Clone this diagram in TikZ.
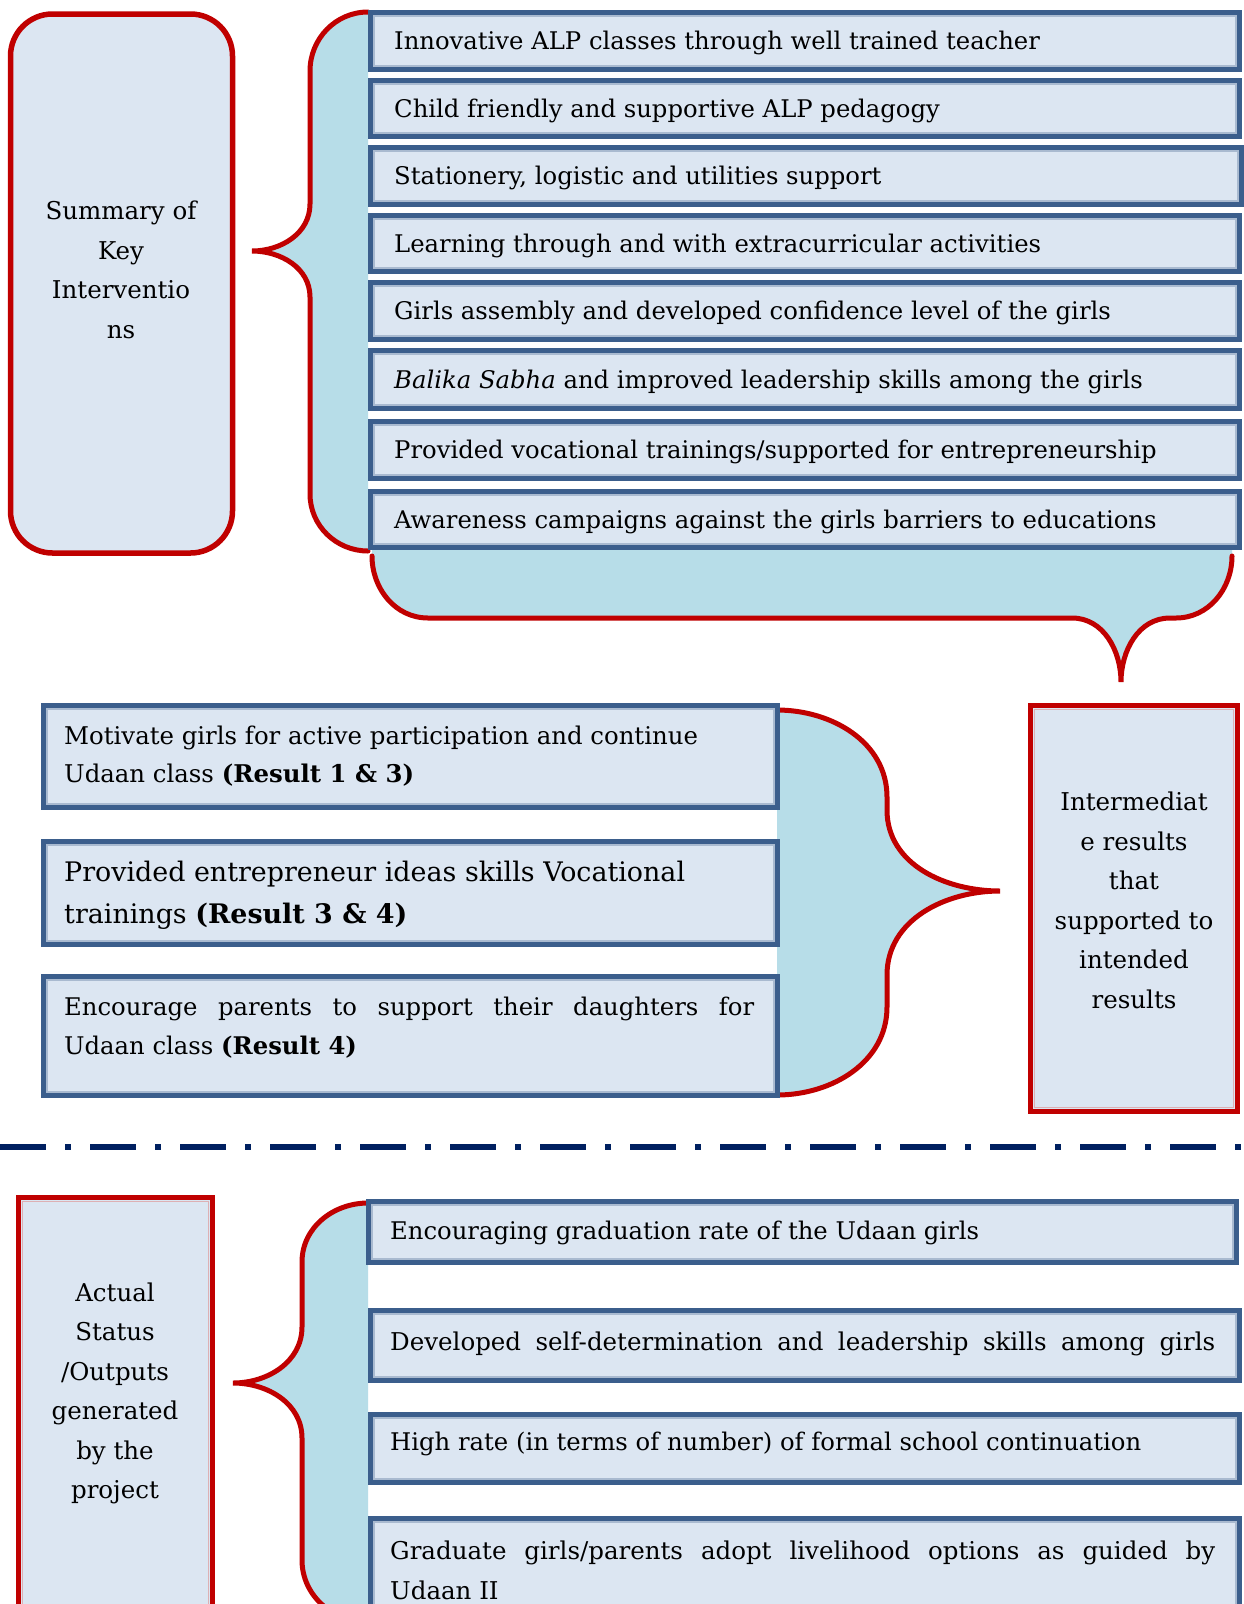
\documentclass[tikz,border=0pt]{standalone}
\usepackage{fontspec}
\setmainfont{DejaVu Serif}
\definecolor{boxfill}{HTML}{DCE6F2}
\definecolor{bracefill}{HTML}{B7DDE8}
\definecolor{boxline}{HTML}{3B5E8C}
\definecolor{boxinner}{HTML}{A9BAD0}
\definecolor{redline}{HTML}{C00000}
\definecolor{redinner}{HTML}{DDB0B4}
\definecolor{navyline}{HTML}{002060}
\tikzset{
  bluebox/.style={draw=boxline, fill=boxfill, line width=4.8pt, inner sep=0pt, outer sep=0pt, anchor=north west,
    path picture={\draw[boxinner, line width=1.2pt] ([shift={(3.5pt,-3.5pt)}]path picture bounding box.north west) rectangle ([shift={(-3.5pt,3.5pt)}]path picture bounding box.south east);}},
  redbox/.style={draw=redline, fill=boxfill, line width=5.5pt, inner sep=0pt, outer sep=0pt, anchor=north west,
    path picture={\draw[redinner, line width=1.2pt] ([shift={(3.8pt,-3.8pt)}]path picture bounding box.north west) rectangle ([shift={(-3.8pt,3.8pt)}]path picture bounding box.south east);}},
  roundredbox/.style={draw=redline, fill=boxfill, line width=5.5pt, inner sep=0pt, outer sep=0pt, anchor=north west, rounded corners=42pt},
  bracered/.style={draw=redline, line width=5pt, line cap=round},
  txt/.style={inner sep=0pt, anchor=west, align=left, font=\fontsize{24.3}{39}\selectfont},
  ctxt/.style={inner sep=0pt, anchor=center, align=center, font=\fontsize{24.5}{39.5}\selectfont},
}
\begin{document}
\begin{tikzpicture}[x=1pt,y=-1pt]
\useasboundingbox (0,0) rectangle (1244,1604);
\fill[white] (0,0) rectangle (1244,1604);
\clip (0,0) rectangle (1244,1604);

% ---------- braces ----------
\fill[bracefill] (368,12) to[out=180,in=90] (310,71) -- (310,204) to[out=-90,in=0] (252,251) to[out=0,in=90] (310,297) -- (310,494) to[out=-90,in=180] (368,551) -- cycle;
\draw[bracered] (368,12) to[out=180,in=90] (310,71) -- (310,204) to[out=-90,in=0] (252,251) to[out=0,in=90] (310,297) -- (310,494) to[out=-90,in=180] (368,551);

\fill[bracefill] (372,550) -- (372,556) to[out=-90,in=180] (428,618) -- (1072,618) to[out=0,in=90] (1121,682) to[out=90,in=180] (1170,618) -- (1176,618) to[out=0,in=-90] (1232,556) -- (1232,550) -- cycle;
\draw[bracered] (372,556) to[out=-90,in=180] (428,618) -- (1072,618) to[out=0,in=90] (1121,682) to[out=90,in=180] (1170,618) -- (1176,618) to[out=0,in=-90] (1232,556);

\fill[bracefill] (777,710) to[out=0,in=90] (887,797) -- (887,810) to[out=-90,in=180] (1000,891) to[out=180,in=90] (887,975) -- (887,1007) to[out=-90,in=0] (777,1095) -- cycle;
\draw[bracered] (777,710) to[out=0,in=90] (887,797) -- (887,810) to[out=-90,in=180] (1000,891) to[out=180,in=90] (887,975) -- (887,1007) to[out=-90,in=0] (777,1095);

\fill[bracefill] (368,1203) to[out=180,in=90] (302,1262) -- (302,1327) to[out=-90,in=0] (233,1383) to[out=0,in=90] (302,1438) -- (302,1560) to[out=-90,in=180] (368,1622) -- cycle;
\draw[bracered] (368,1203) to[out=180,in=90] (302,1262) -- (302,1327) to[out=-90,in=0] (233,1383) to[out=0,in=90] (302,1438) -- (302,1560) to[out=-90,in=180] (368,1622);

% ---------- left box ----------
\node[roundredbox, minimum width=222pt, minimum height=539pt] (summary) at (10.5,14) {};
\node[ctxt] (summarytxt) at (121,270) {Summary of\\Key\\Interventio\\ns};

% ---------- top boxes ----------
\node[bluebox, minimum width=869pt, minimum height=57pt] (t1) at (370.5,12.5) {};
\node[bluebox, minimum width=869pt, minimum height=56pt] (t2) at (370.5,80.5) {};
\node[bluebox, minimum width=871pt, minimum height=57pt] (t3) at (370.5,147.5) {};
\node[bluebox, minimum width=869pt, minimum height=56pt] (t4) at (370.5,215.5) {};
\node[bluebox, minimum width=869pt, minimum height=57pt] (t5) at (370.5,282.5) {};
\node[bluebox, minimum width=869pt, minimum height=58pt] (t6) at (370.5,350.5) {};
\node[bluebox, minimum width=869pt, minimum height=57pt] (t7) at (370.5,421.5) {};
\node[bluebox, minimum width=869pt, minimum height=56pt] (t8) at (370.5,491.5) {};
\node[txt] (t1txt) at (394,43) {Innovative ALP classes through well trained teacher};
\node[txt] (t2txt) at (394,110.5) {Child friendly and supportive ALP pedagogy};
\node[txt] (t3txt) at (394,178) {Stationery, logistic and utilities support};
\node[txt] (t4txt) at (394,245.5) {Learning through and with extracurricular activities};
\node[txt] (t5txt) at (394,313) {Girls assembly and developed confidence level of the girls};
\node[txt] (t6txt) at (394,381.5) {\textit{Balika Sabha} and improved leadership skills among the girls};
\node[txt] (t7txt) at (394,452) {Provided vocational trainings/supported for entrepreneurship};
\node[txt] (t8txt) at (394,521.5) {Awareness campaigns against the girls barriers to educations};

% ---------- middle boxes ----------
\node[bluebox, minimum width=734pt, minimum height=102pt] (mA) at (43.5,705.5) {};
\node[bluebox, minimum width=734pt, minimum height=103pt] (mB) at (43.5,841.5) {};
\node[bluebox, minimum width=734pt, minimum height=119pt] (mC) at (43.5,976.5) {};
\node[txt, font=\fontsize{24.4}{38.5}\selectfont] (mAtxt) at (64,756) {Motivate girls for active participation and continue\\Udaan class \textbf{(Result 1 \& 3)}};
\node[txt, font=\fontsize{26.9}{42}\selectfont] (mBtxt) at (64,895) {Provided entrepreneur ideas skills Vocational\\trainings \textbf{(Result 3 \& 4)}};
\node[txt] (mCtxt) at (64,1027.5) {\makebox[690pt][s]{Encourage parents to support their daughters for}\\Udaan class \textbf{(Result 4)}};

\node[redbox, minimum width=207pt, minimum height=406pt] (inter) at (1030.5,705.5) {};
\node[ctxt] (intertxt) at (1134,900.5) {Intermediat\\e results\\that\\supported to\\intended\\results};

% ---------- separator ----------
\coordinate (sepL) at (0,1147);
\coordinate (sepR) at (1244,1147);
\draw[navyline, line width=6pt, dash pattern=on 46pt off 19pt on 6pt off 19pt] (sepL) -- (sepR);

% ---------- bottom ----------
\node[redbox, minimum width=194pt, minimum height=460pt] (actual) at (18.5,1197.5) {};
\node[ctxt] (actualtxt) at (115,1393.5) {Actual\\Status\\/Outputs\\generated\\by the\\project};

\node[bluebox, minimum width=868pt, minimum height=61pt] (b1) at (368.5,1201.5) {};
\node[bluebox, minimum width=869pt, minimum height=70pt] (b2) at (370.5,1310.5) {};
\node[bluebox, minimum width=869pt, minimum height=68pt] (b3) at (370.5,1414.5) {};
\node[bluebox, minimum width=869pt, minimum height=150pt] (b4) at (370.5,1518.5) {};
\node[txt] (b1txt) at (390,1233) {Encouraging graduation rate of the Udaan girls};
\node[txt, font=\fontsize{24.5}{40}\selectfont] (b2txt) at (390,1344) {\makebox[825pt][s]{Developed self-determination and leadership skills among girls}};
\node[txt] (b3txt) at (390,1444) {High rate (in terms of number) of formal school continuation};
\node[txt, font=\fontsize{24.5}{40}\selectfont] (b4txt) at (390,1570) {\makebox[825pt][s]{Graduate girls/parents adopt livelihood options as guided by}\\Udaan II};
\end{tikzpicture}
\end{document}
